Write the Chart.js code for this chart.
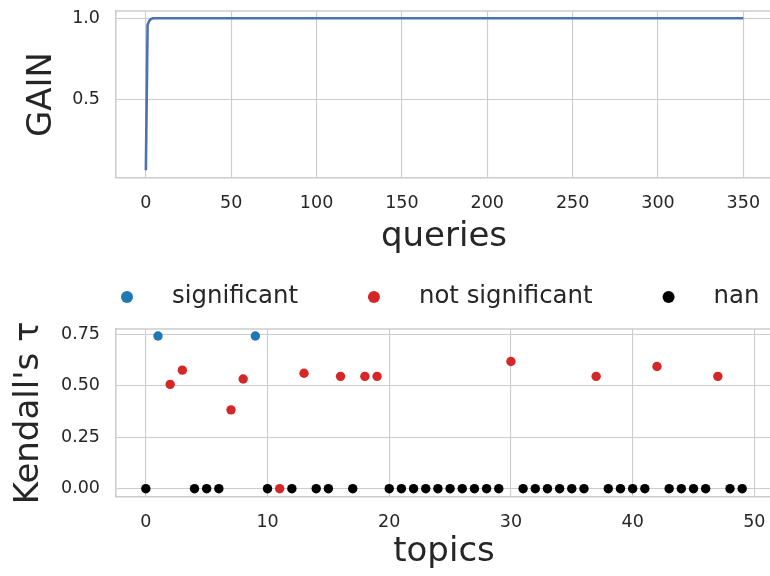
<!DOCTYPE html>
<html>
<head>
<meta charset="utf-8">
<script src="https://cdn.jsdelivr.net/npm/chart.js@4.4.0/dist/chart.umd.min.js"></script>
<style>
  html, body { margin: 0; padding: 0; background: #fff; overflow: hidden; }
  #wrap { position: relative; width: 770px; height: 576px; overflow: hidden; }
  canvas { position: absolute; left: 0; }
  #gainChart { top: 0; }
  #tauChart { top: 270px; }
</style>
</head>
<body>
<div id="wrap">
  <!-- canvases are 2px wider than the page: the right spine sits just outside the picture -->
  <canvas id="gainChart" width="772" height="270"></canvas>
  <canvas id="tauChart" width="772" height="306"></canvas>
</div>
<script>
// top panel: gain per query (goes flat at 1.0 after the first few queries)
const queries = [0, 1, 2, 3, 4, 350];
const gain = [0.06, 0.958, 0.985, 0.995, 1.0, 1.0];

// bottom panel: kendall's tau per topic
const topics = [
  0, 1, 2, 3, 4, 5, 6, 7, 8, 9,
  10, 11, 12, 13, 14, 15, 16, 17, 18, 19,
  20, 21, 22, 23, 24, 25, 26, 27, 28, 29,
  30, 31, 32, 33, 34, 35, 36, 37, 38, 39,
  40, 41, 42, 43, 44, 45, 46, 47, 48, 49
];
const tau = [
  0, 0.742, 0.507, 0.576, 0, 0, 0, 0.383, 0.533, 0.742,
  0, 0, 0, 0.561, 0, 0, 0.546, 0, 0.546, 0.546,
  0, 0, 0, 0, 0, 0, 0, 0, 0, 0,
  0.618, 0, 0, 0, 0, 0, 0, 0.546, 0, 0,
  0, 0, 0.594, 0, 0, 0, 0, 0.546, 0, 0
];
const status = [
  'nan', 'sig', 'not', 'not', 'nan', 'nan', 'nan', 'not', 'not', 'sig',
  'nan', 'not', 'nan', 'not', 'nan', 'nan', 'not', 'nan', 'not', 'not',
  'nan', 'nan', 'nan', 'nan', 'nan', 'nan', 'nan', 'nan', 'nan', 'nan',
  'not', 'nan', 'nan', 'nan', 'nan', 'nan', 'nan', 'not', 'nan', 'nan',
  'nan', 'nan', 'not', 'nan', 'nan', 'nan', 'nan', 'not', 'nan', 'nan'
];
const groups = ['sig', 'not', 'nan'];
const groupLabels = ['significant', 'not significant', 'nan'];
const groupColors = ['#1f77b4', '#d62728', '#000000'];

const TEXT = '#262626';
const GRID = '#cccccc';
Chart.defaults.font.family = '"DejaVu Sans", sans-serif';
Chart.defaults.color = TEXT;

// matplotlib draws a top spine too, chart.js only has the axis borders
const topSpine = {
  id: 'topSpine',
  beforeDatasetsDraw(chart) {
    const { ctx, chartArea: a } = chart;
    ctx.save();
    ctx.strokeStyle = GRID;
    ctx.lineWidth = 1.6;
    ctx.beginPath();
    ctx.moveTo(a.left, a.top);
    ctx.lineTo(a.right, a.top);
    ctx.stroke();
    ctx.restore();
  }
};

// legend in one row above the scatter, dot then label
const dotLegend = {
  id: 'dotLegend',
  afterDraw(chart) {
    const ctx = chart.ctx;
    let x = chart.chartArea.left + 11;
    const y = 27;
    ctx.save();
    ctx.font = '24.4px "DejaVu Sans"';
    ctx.textBaseline = 'middle';
    ctx.textAlign = 'left';
    chart.data.datasets.forEach(ds => {
      ctx.fillStyle = ds.backgroundColor;
      ctx.beginPath();
      ctx.arc(x, y, 6, 0, Math.PI * 2);
      ctx.fill();
      ctx.fillStyle = TEXT;
      ctx.fillText(ds.label, x + 45, y);
      x += 45 + ctx.measureText(ds.label).width + 76;
    });
    ctx.restore();
  }
};

const fixY = (w) => (s) => { s.width = w; s.paddingTop = 0; s.paddingBottom = 0; };
const fixX = (h) => (s) => { s.height = h; s.paddingLeft = 0; s.paddingRight = 0; };

new Chart(document.getElementById('gainChart'), {
  type: 'scatter',
  data: {
    datasets: [{
      data: queries.map((q, i) => ({ x: q, y: gain[i] })),
      showLine: true,
      borderColor: '#4c72b0',
      borderWidth: 2.6,
      pointRadius: 0,
      tension: 0
    }]
  },
  options: {
    responsive: false,
    animation: false,
    devicePixelRatio: 1,
    layout: { autoPadding: false, padding: { top: 11, left: 0, right: 0, bottom: 0 } },
    plugins: { legend: { display: false }, tooltip: { enabled: false } },
    scales: {
      x: {
        type: 'linear',
        min: -17.5,
        max: 366.8,
        afterFit: fixX(92),
        grid: { color: GRID, lineWidth: 1.1, drawTicks: false },
        border: { color: GRID, width: 1.6 },
        ticks: { stepSize: 50, includeBounds: false, padding: 15, maxRotation: 0, autoSkip: false, font: { size: 17.5 } },
        title: { display: true, text: 'queries', font: { size: 34 }, padding: { top: 0, bottom: 12 } }
      },
      y: {
        min: 0.012,
        max: 1.045,
        afterFit: fixY(116),
        grid: { color: GRID, lineWidth: 1.1, drawTicks: false },
        border: { color: GRID, width: 1.6 },
        ticks: { stepSize: 0.5, includeBounds: false, padding: 16, font: { size: 17.5 }, callback: v => v.toFixed(1) },
        title: { display: true, text: 'GAIN', font: { size: 34 }, padding: { top: 22, bottom: 0 } }
      }
    }
  },
  plugins: [topSpine]
});

new Chart(document.getElementById('tauChart'), {
  type: 'scatter',
  data: {
    datasets: groups.map((g, k) => ({
      label: groupLabels[k],
      data: topics.filter((t, i) => status[i] === g).map(t => ({ x: t, y: tau[t] })),
      backgroundColor: groupColors[k],
      borderWidth: 0,
      pointRadius: 4.7,
      pointHoverRadius: 4.7
    }))
  },
  options: {
    responsive: false,
    animation: false,
    devicePixelRatio: 1,
    layout: { autoPadding: false, padding: { top: 59, left: 0, right: 0, bottom: 0 } },
    plugins: { legend: { display: false }, tooltip: { enabled: false } },
    scales: {
      x: {
        type: 'linear',
        min: -2.45,
        max: 51.45,
        afterFit: fixX(79.3),
        grid: { color: GRID, lineWidth: 1.1, drawTicks: false },
        border: { color: GRID, width: 1.6 },
        ticks: { stepSize: 10, includeBounds: false, padding: 15, maxRotation: 0, autoSkip: false, font: { size: 17.5 } },
        title: { display: true, text: 'topics', font: { size: 34 }, padding: { top: 0, bottom: 3 } }
      },
      y: {
        min: -0.039,
        max: 0.776,
        afterFit: fixY(116),
        grid: { color: GRID, lineWidth: 1.1, drawTicks: false },
        border: { color: GRID, width: 1.6 },
        ticks: { stepSize: 0.25, includeBounds: false, padding: 16, font: { size: 17.5 }, callback: v => v.toFixed(2) },
        title: { display: true, text: "Kendall's τ", font: { size: 34 }, padding: { top: 9, bottom: 0 } }
      }
    }
  },
  plugins: [topSpine, dotLegend]
});
</script>
</body>
</html>
